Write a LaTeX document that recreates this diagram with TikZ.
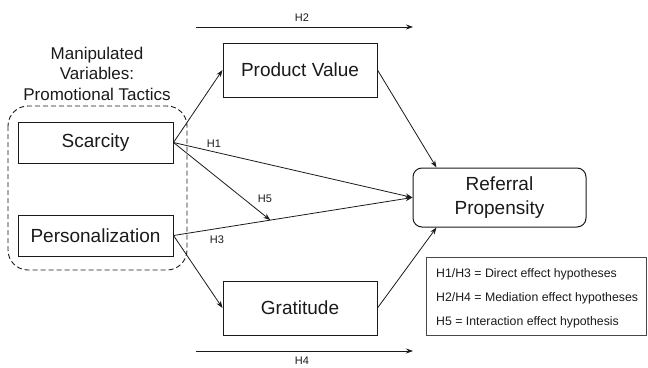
\documentclass[tikz,border=0pt]{standalone}
\usepackage{fontspec}
\setmainfont{Liberation Sans}
\usetikzlibrary{arrows.meta,calc}
\definecolor{ink}{HTML}{1A1A1A}
\tikzset{
  box/.style={draw=ink,line width=1pt,text=ink,font=\fontsize{19}{22}\selectfont,inner sep=0pt},
  arr/.style={draw=ink,line width=0.8pt,-{Stealth[length=7pt,width=5pt]}},
  hlab/.style={text=ink,font=\fontsize{11}{13}\selectfont,inner sep=0pt},
  legtext/.style={text=ink,font=\fontsize{12.3}{14}\selectfont,inner sep=0pt,anchor=west},
}
\begin{document}
\begin{tikzpicture}[x=1pt,y=-1pt]
\useasboundingbox (0,0) rectangle (648,367);
% dashed group
\draw[ink,line width=0.9pt,dash pattern=on 5pt off 3pt,rounded corners=20pt] (8,106) rectangle (187,270);
\node[text=ink,font=\fontsize{17}{20.5}\selectfont,align=center,inner sep=0pt] (grp) at (97,73.5) {Manipulated\\Variables:\\Promotional Tactics};
% boxes
\node[box,minimum width=155pt,minimum height=41pt] (sc) at (95.5,142.5) {Scarcity};
\node[box,minimum width=155pt,minimum height=41pt] (pe) at (95.5,235.5) {Personalization};
\node[box,minimum width=154pt,minimum height=54pt] (pv) at (300,70) {Product Value};
\node[box,minimum width=154pt,minimum height=54pt] (gr) at (300,308) {Gratitude};
\node[box,rounded corners=9pt,minimum width=173pt,minimum height=59pt,align=center,font=\fontsize{19}{24}\selectfont] (rp) at (499.5,197.5) {Referral\\Propensity};
% legend
\node[draw=ink!80,line width=1pt,minimum width=220pt,minimum height=78pt,inner sep=0pt] (leg) at (536.5,296) {};
\node[legtext] (l1) at (436,274) {H1/H3 = Direct effect hypotheses};
\node[legtext] (l2) at (436,298) {H2/H4 = Mediation effect hypotheses};
\node[legtext] (l3) at (436,322) {H5 = Interaction effect hypothesis};
% connectors
\draw[arr] (sc.east) -- (pv.west);
\draw[arr] (sc.east) -- (rp.west);
\draw[arr] (pe.east) -- (rp.west);
\draw[arr] (pe.east) -- (gr.west);
\coordinate (h5end) at ($(pe.east)!0.405!(rp.west)$);
\draw[arr] (sc.east) -- (h5end);
\draw[arr] (pv.east) -- ([xshift=24pt]rp.north west);
\draw[arr] (gr.east) -- ([xshift=24pt]rp.south west);
% labels
\node[hlab] (h1) at (214,144) {H1};
\node[hlab] (h5) at (265,199) {H5};
\node[hlab] (h3) at (217,240) {H3};
% mediation arrows
\coordinate (a2) at (196,27);
\coordinate (b2) at (413,27);
\draw[arr] (a2) -- (b2);
\node[hlab] (h2) at (302,18) {H2};
\coordinate (a4) at (196,351);
\coordinate (b4) at (413,351);
\draw[arr] (a4) -- (b4);
\node[hlab] (h4) at (302,361) {H4};
\end{tikzpicture}
\end{document}
